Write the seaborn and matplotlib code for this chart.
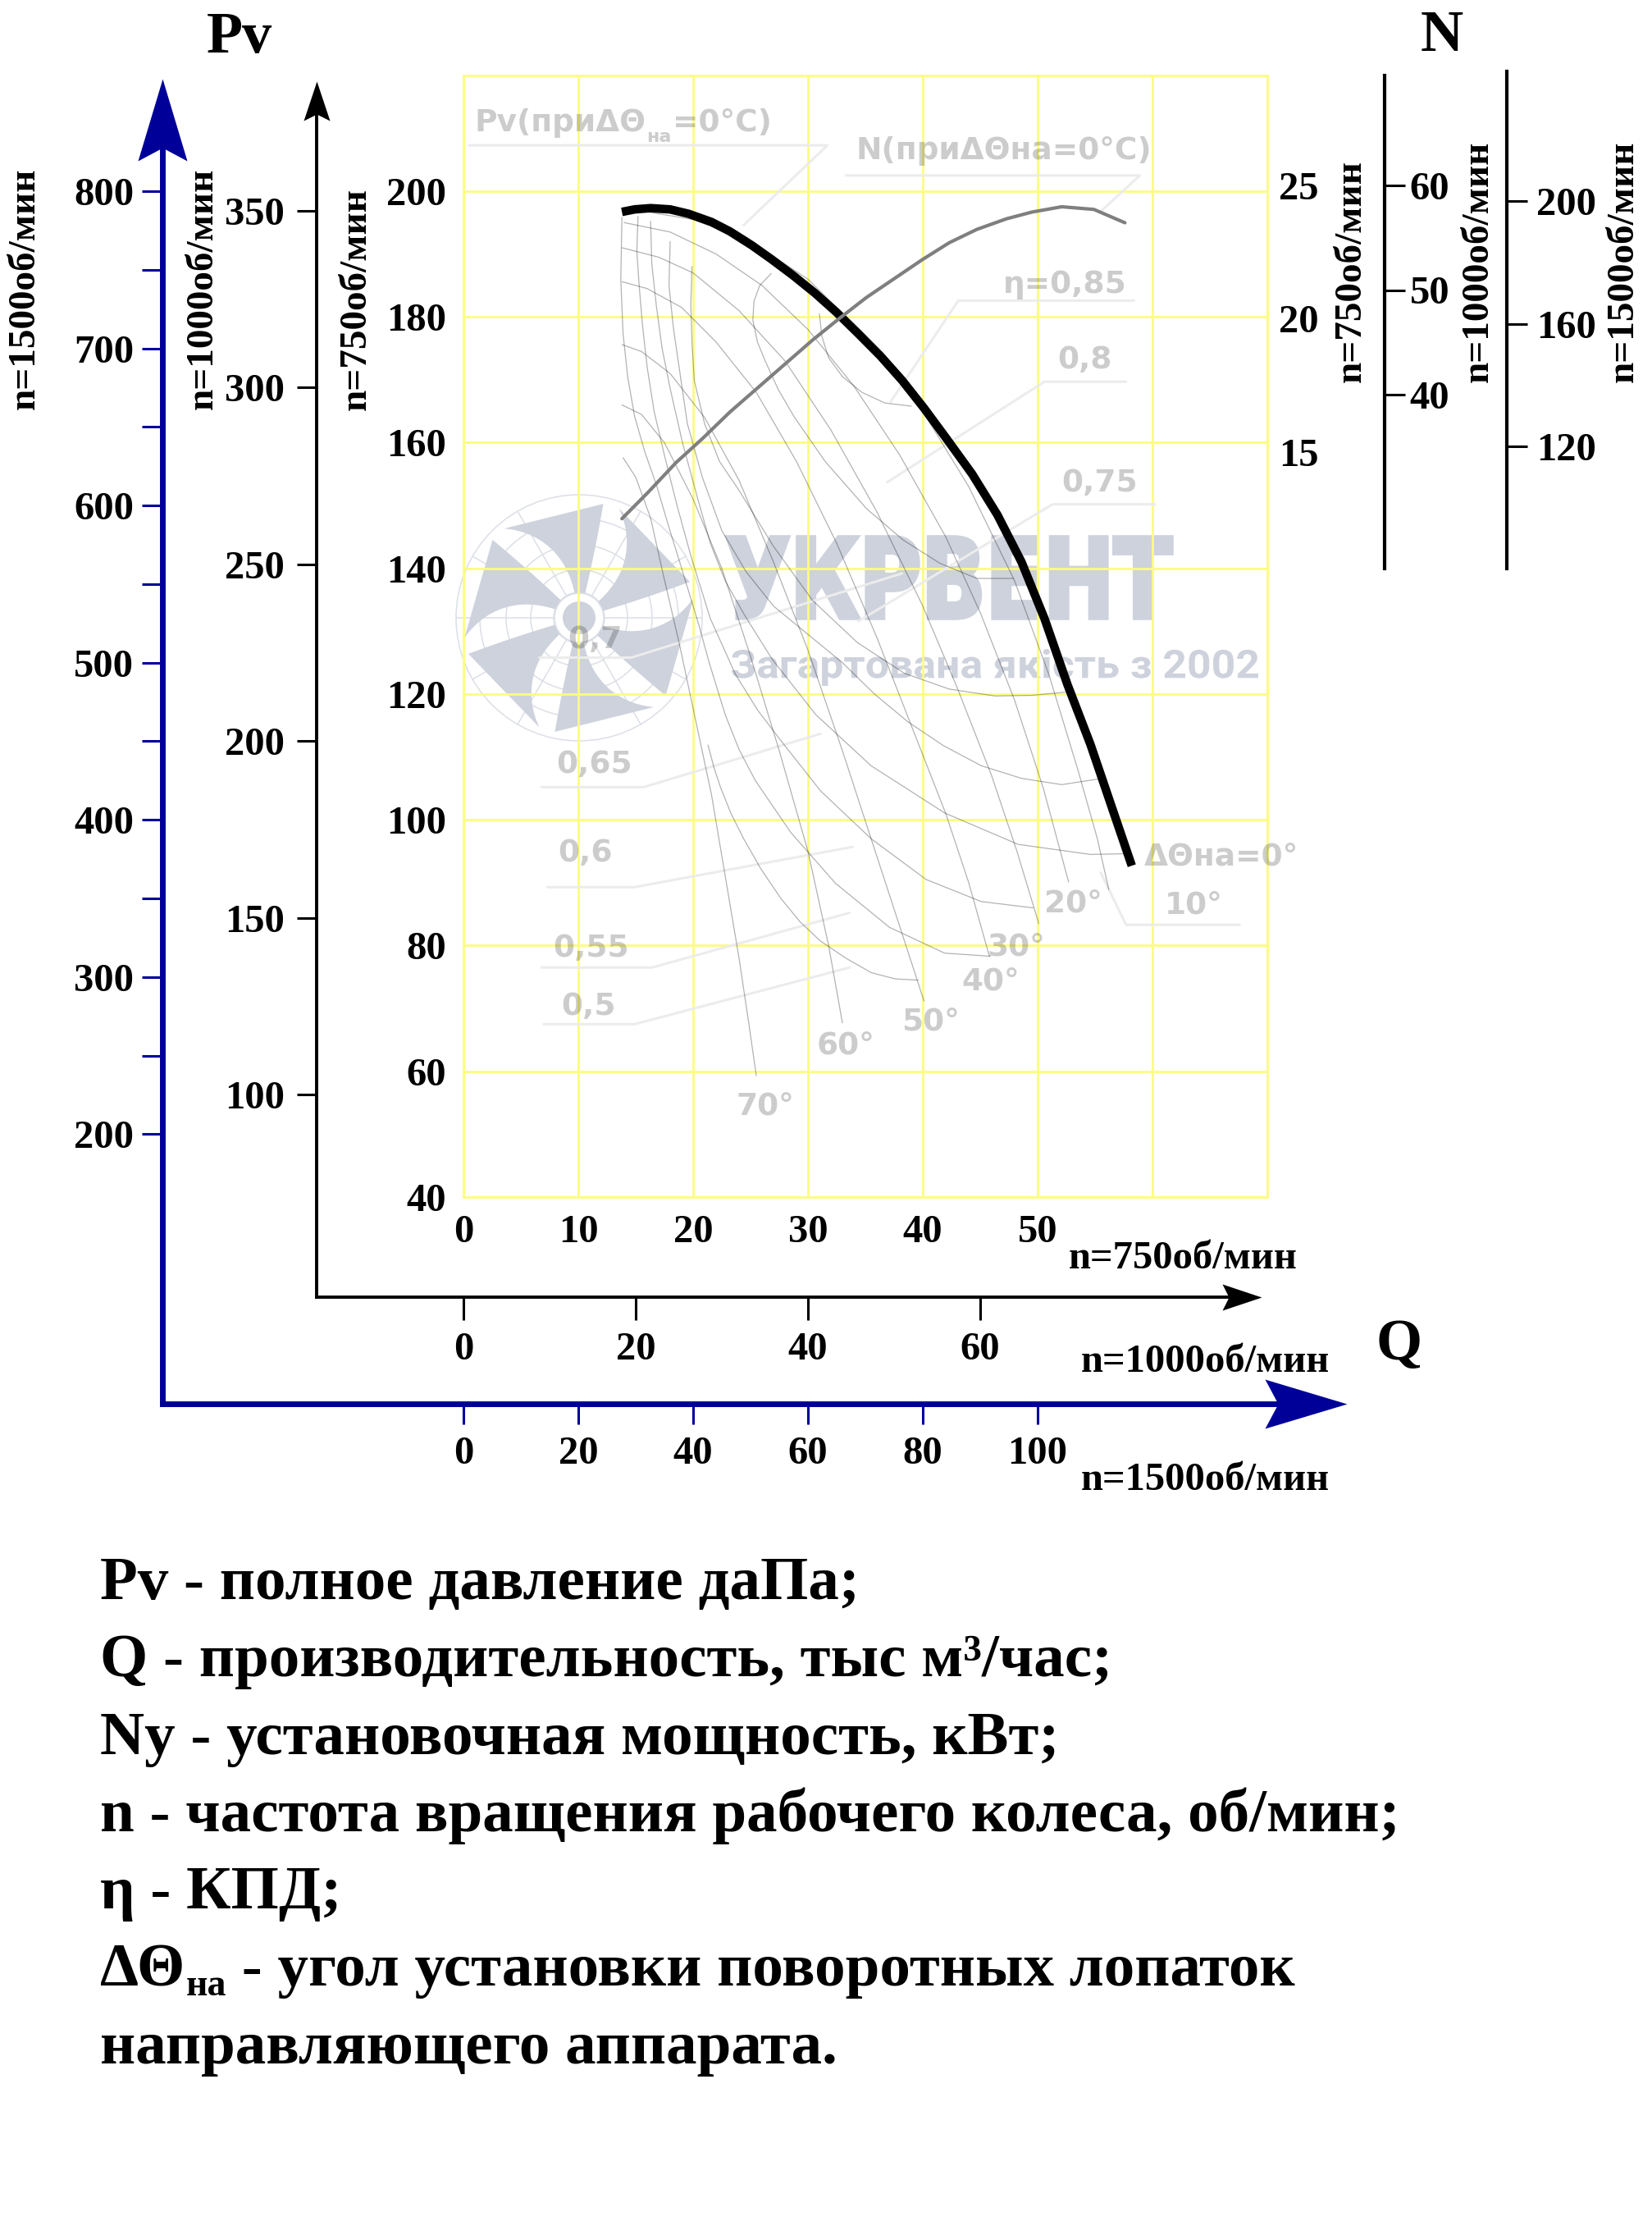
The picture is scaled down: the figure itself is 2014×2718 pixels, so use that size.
import numpy as np
import matplotlib
matplotlib.use("Agg")
import matplotlib.pyplot as plt
import seaborn as sns
from matplotlib.path import Path
from matplotlib.patches import PathPatch, Circle, Polygon
from matplotlib.textpath import TextPath
from matplotlib.font_manager import FontProperties
from matplotlib.transforms import Affine2D
from matplotlib.lines import Line2D
from matplotlib.text import Annotation

W, H = 2015, 2718

# ---- данные (n = 750 об/мин) ----
# Q - тыс м3/час, Pv - даПа, N - кВт
pv_q = [13.8, 14.9, 16.3, 18.0, 19.6, 21.6, 23.2, 25.1, 26.8, 28.7, 30.6, 32.5, 34.4,
        36.3, 38.2, 40.1, 42.0, 44.3, 46.5, 48.6, 50.6, 52.6, 54.6, 56.5, 58.2]
pv_val = [196.7, 197.1, 197.3, 197.1, 196.4, 195.1, 193.6, 191.4, 189.2, 186.6, 183.8, 180.7, 177.3,
          173.8, 169.9, 165.5, 160.8, 155.0, 148.5, 141.0, 132.0, 121.5, 112.0, 101.8, 92.7]

n_q = [13.8, 16.1, 18.5, 20.8, 23.2, 25.6, 28.0, 30.4, 32.7, 35.1, 37.5, 39.9, 42.3, 44.7, 47.3, 49.5, 52.1, 54.9, 57.6]
n_val = [12.5, 13.5, 14.6, 15.5, 16.5, 17.4, 18.3, 19.2, 20.0, 20.8, 21.5, 22.2, 22.85, 23.35, 23.75, 24.0, 24.2, 24.1, 23.6]

# кривые Pv при разных углах ΔΘна
angle_curves = {
    "10°": ([15.0, 20.0, 25.0, 30.0, 35.0, 40.0, 44.0, 48.0, 51.0, 53.5, 55.2, 56.2],
            [197, 195.5, 192, 186, 177, 165, 153, 138, 123, 108, 97, 88.9]),
    "20°": ([14.0, 18.0, 22.0, 26.0, 30.0, 34.0, 38.0, 42.0, 45.0, 48.0, 50.5, 52.7],
            [195, 193.5, 190, 185, 178, 169, 158, 145, 133, 119, 105, 90.1]),
    "30°": ([13.8, 17.0, 20.0, 24.0, 28.0, 32.0, 36.0, 40.0, 43.0, 46.0, 48.2, 50.1],
            [191, 189.5, 187, 181, 173, 162, 149, 134, 121, 107, 95, 83.5]),
    "40°": ([13.8, 16.0, 19.0, 22.0, 25.5, 29.0, 32.5, 36.0, 39.0, 42.0, 44.0, 45.8],
            [185.6, 184.5, 181.5, 176, 168, 157, 144, 129, 115, 101, 90, 78.3]),
    "50°": ([13.8, 15.5, 18.0, 21.0, 24.0, 27.0, 30.0, 33.0, 35.5, 38.0, 40.1],
            [175.6, 174.5, 171, 164, 154, 141, 127, 111, 97, 83, 71.2]),
    "60°": ([13.8, 15.5, 17.5, 20.0, 22.5, 25.0, 27.5, 30.0, 31.8, 33.0],
            [166, 164.5, 160, 151, 140, 126, 111, 95, 80, 67.7]),
    "70°": ([13.9, 15.0, 16.3, 17.4, 18.8, 20.2, 21.6, 22.8, 24.0, 24.9, 25.5],
            [157.6, 154.5, 148, 139, 128, 116, 104, 91, 78, 67, 59.3]),
}

# линии равного КПД
eta_curves = {
    "0,85": ([31.0, 31.2, 31.8, 33.0, 34.7, 36.7, 39.0], [180.5, 177.0, 173.5, 170.5, 168.0, 166.3, 165.8]),
    "0,8": ([26.8, 25.8, 25.3, 25.2, 25.6, 26.3, 27.4, 28.8, 31.5, 35.1, 38.3, 41.5, 44.7, 47.9],
            [186.9, 185.0, 182.5, 179.5, 176.0, 172.9, 168.5, 164.1, 157.0, 149.5, 144.5, 140.8, 138.4, 138.4]),
    "0,75": ([19.9, 19.8, 19.9, 20.1, 21.0, 22.3, 24.0, 27.0, 30.4, 34.3, 38.4, 42.3, 46.3, 49.5, 52.4],
             [188.0, 182.0, 176.0, 169.9, 163.0, 157.0, 152.4, 143.5, 134.9, 128.2, 123.3, 120.8, 119.7, 119.8, 120.3]),
    "0,7": ([18.0, 17.9, 18.3, 18.9, 19.5, 20.8, 22.5, 24.6, 27.0, 30.0, 33.0, 35.8, 38.7, 41.8, 45.1, 48.6, 52.1, 55.3],
            [192, 185, 178, 170.5, 163, 154.5, 146, 139.5, 134, 129.5, 125, 120, 115.6, 111.8, 108.6, 106.6, 105.6, 106.5]),
    "0,65": ([16.3, 16.4, 16.8, 17.3, 18.0, 19.1, 20.4, 21.5, 22.8, 24.5, 26.9, 30.7, 35.5, 41.9, 48.3, 54.6, 57.5],
             [195.2, 188.5, 181.7, 175.0, 168.6, 159.8, 151.1, 144.0, 138.0, 132.5, 125.5, 116.7, 108.6, 101.1, 96.1, 94.5, 94.6]),
    "0,6": ([15.2, 15.1, 15.3, 15.6, 16.0, 16.6, 17.5, 18.6, 19.8, 21.5, 23.7, 25.6, 27.6, 31.1, 35.5, 40.3, 45.1, 49.6],
            [196, 190.5, 185, 178.5, 172, 165, 158, 150, 142, 132, 123.1, 117.5, 112.7, 104.6, 97.0, 90.5, 87.0, 86.0]),
    "0,55": ([13.8, 13.7, 13.9, 14.3, 14.9, 15.8, 16.8, 17.9, 19.0, 20.5, 21.4, 22.8, 24.0, 25.4, 28.5, 32.4, 37.1, 41.9, 45.9],
             [195.8, 186, 177.3, 170.5, 164.2, 158.5, 153.3, 146.5, 140, 131, 125, 116.7, 111.2, 106.3, 98.0, 89.9, 82.9, 78.8, 78.3]),
    "0,5": ([21.3, 21.8, 22.4, 23.3, 24.4, 25.9, 27.6, 29.3, 31.1, 33.3, 35.5, 37.6, 39.6],
            [111.9, 108.4, 105.1, 101.0, 97.0, 92.2, 87.6, 83.8, 80.7, 78.0, 75.7, 74.7, 74.5]),
}

# подписи на поле графика и выноски к ним
eta_labels = [("η=0,85", 52.4, 185.6), ("0,8", 54.1, 173.6), ("0,75", 55.4, 154.0), ("0,7", 11.5, 129.1),
              ("0,65", 11.4, 109.3), ("0,6", 10.6, 95.2), ("0,55", 11.1, 80.1), ("0,5", 10.9, 70.8)]
angle_labels = [("10°", 63.6, 86.9), ("20°", 53.1, 87.2), ("30°", 48.1, 80.3), ("40°", 45.9, 74.8),
                ("50°", 40.7, 68.4), ("60°", 33.3, 64.6), ("70°", 26.3, 54.9)]
leaders = [
    ([0.5, 31.7, 24.4], [207.3, 207.3, 194.6]),
    ([33.3, 58.9, 55.4], [202.5, 202.5, 196.6]),
    ([58.4, 43.1, 37.2], [182.6, 182.6, 166.5]),
    ([57.7, 50.6, 36.9], [169.7, 169.7, 153.7]),
    ([60.2, 51.3, 34.4], [150.2, 150.2, 131.6]),
    ([6.6, 14.6, 38.2], [125.8, 125.8, 139.2]),
    ([6.8, 15.7, 31.1], [105.2, 105.2, 113.7]),
    ([7.3, 14.9, 33.9], [89.3, 89.3, 95.7]),
    ([6.8, 16.4, 33.6], [76.5, 76.5, 85.2]),
    ([7.0, 14.9, 33.6], [67.5, 67.5, 76.5]),
    ([67.6, 57.7, 55.5], [83.3, 83.3, 91.6]),
]

# деления шкал
q750_ticks = [0, 10, 20, 30, 40, 50, 60, 70]
q750_labels = ["0", "10", "20", "30", "40", "50", "", ""]
pv750_ticks = [40, 60, 80, 100, 120, 140, 160, 180, 200]
q1000_ticks = [0, 20, 40, 60]
pv1000_ticks = [100, 150, 200, 250, 300, 350]
q1500_ticks = [0, 20, 40, 60, 80, 100]
pv1500_ticks = [200, 300, 400, 500, 600, 700, 800]
pv1500_minor = [250, 350, 450, 550, 650, 750]
n750_ticks = [15, 20, 25]
n1000_ticks = [40, 50, 60]
n1500_ticks = [120, 160, 200]

legend_lines = [
    "Pv - полное давление даПа;",
    "Q - производительность, тыс м³/час;",
    "Nу - установочная мощность, кВт;",
    "n - частота вращения рабочего колеса, об/мин;",
    "η - КПД;",
]

BLUE = "#000099"
YELLOW = "#fcfc80"
THIN = (0, 0, 0, 0.3)
GRAY_TXT = (0, 0, 0, 0.2)
LEADER = "#ececec"
BLADE = "#cdd2dc"

sns.set_theme(style="ticks")
plt.rcParams["font.family"] = ["Liberation Serif", "DejaVu Serif"]
plt.rcParams["font.weight"] = "bold"
plt.rcParams["text.color"] = "black"
plt.rcParams["xtick.color"] = "black"
plt.rcParams["ytick.color"] = "black"

fig = plt.figure(figsize=(W / 100, H / 100), dpi=100)
fig.patch.set_facecolor("white")


def fbox(x0, y0, x1, y1):
    return [x0 / W, 1 - y1 / H, (x1 - x0) / W, (y1 - y0) / H]


def lim_from(v_a, py_a, v_b, py_b, py_bottom, py_top):
    k = (v_b - v_a) / (py_b - py_a)
    return v_a + (py_bottom - py_a) * k, v_a + (py_top - py_a) * k


MAIN = (565, 92, 1545, 1459)
Q_LIM = (0, 70)
PV_LIM = (40, 218.4)


def q_at(px):
    return Q_LIM[0] + (px - MAIN[0]) * (Q_LIM[1] - Q_LIM[0]) / (MAIN[2] - MAIN[0])


def pv_at(py):
    return PV_LIM[0] + (MAIN[3] - py) * (PV_LIM[1] - PV_LIM[0]) / (MAIN[3] - MAIN[1])


def arrow_path(length, half_w, notch, right=False):
    pts = [(0, notch), (half_w, notch - length), (0, 0), (-half_w, notch - length), (0, notch)]
    if right:
        pts = [(y, -x) for x, y in pts]
    codes = [Path.MOVETO, Path.LINETO, Path.LINETO, Path.LINETO, Path.CLOSEPOLY]
    return Path(pts, codes)


def speed_axes(box, n, color, lw, head):
    a = fig.add_axes(fbox(*box))
    a.set_facecolor("none")
    kq, kp = n / 750, (n / 750) ** 2
    a.set_xlim(q_at(box[0]) * kq, q_at(box[2]) * kq)
    a.set_ylim(pv_at(box[3]) * kp, pv_at(box[1]) * kp)
    for side in ("top", "right"):
        a.spines[side].set_visible(False)
    for side in ("left", "bottom"):
        a.spines[side].set_color(color)
        a.spines[side].set_linewidth(lw)
    length, half_w, notch = head
    ms = 1.44 * notch
    a.plot([0], [1], transform=a.transAxes, marker=arrow_path(length, half_w, notch), ms=ms,
           color=color, mew=0, clip_on=False, zorder=5)
    a.plot([1], [0], transform=a.transAxes, marker=arrow_path(length, half_w, notch, right=True), ms=ms,
           color=color, mew=0, clip_on=False, zorder=5)
    return a


# ---- шкалы для n=1500 и n=1000 ----
ax_b = speed_axes((198, 180, 1558, 1711), 1500, BLUE, 5, (100, 30, 84))
ax_b.set_yticks(pv1500_ticks)
ax_b.set_yticks(pv1500_minor, minor=True)
ax_b.set_xticks(q1500_ticks)
ax_b.tick_params(axis="both", which="both", direction="out", color=BLUE, labelcolor="black", width=2.2,
                 length=18, labelsize=35, left=True, bottom=True)
ax_b.tick_params(axis="y", pad=7)
ax_b.tick_params(axis="x", pad=10)

ax_k = speed_axes((386, 139, 1498, 1581), 1000, "black", 2.8, (48, 16, 40))
ax_k.set_yticks(pv1000_ticks)
ax_k.set_xticks(q1000_ticks)
ax_k.tick_params(axis="both", direction="out", color="black", labelcolor="black", width=2.2,
                 labelsize=35, left=True, bottom=True)
ax_k.tick_params(axis="y", length=17, pad=11)
ax_k.tick_params(axis="x", length=20, pad=10)

# ---- основное поле (n=750) ----
ax = fig.add_axes(fbox(*MAIN))
ax.set_facecolor("white")


def path_text(text, box, prop, color, stroke=0.0):
    tp = TextPath((0, 0), text, size=100, prop=prop)
    bb = tp.get_extents()
    x0, y0, x1, y1 = box
    tr = (Affine2D().translate(-bb.x0, -bb.y0)
          .scale((x1 - x0) / bb.width / 100, (y1 - y0) / bb.height / 100)
          .translate(x0 / 100, (H - y1) / 100) + fig.dpi_scale_trans)
    ax.add_artist(PathPatch(tp, transform=tr, fc=color, ec=color if stroke else "none", lw=stroke,
                            joinstyle="miter", zorder=0.3, clip_on=False))


def draw_logo(cx, cy):
    base = Affine2D().scale(1 / 100).translate(cx / 100, (H - cy) / 100) + fig.dpi_scale_trans
    ring = "#dcdfe6"
    for r in (150, 121, 89, 59, 31):
        ax.add_artist(Circle((0, 0), r, fill=False, ec=ring, lw=1.1, transform=base, zorder=0.3, clip_on=False))
    for a in np.deg2rad(np.arange(0, 360, 30)):
        ax.add_artist(Line2D([31 * np.cos(a), 150 * np.cos(a)], [31 * np.sin(a), 150 * np.sin(a)],
                             color=ring, lw=1.1, transform=base, zorder=0.3, clip_on=False))
    t = np.linspace(0, 1, 40)
    r = 24 + 118 * t
    for k in range(6):
        th0 = np.deg2rad(90 + 60 * k)
        lead = th0 + np.deg2rad(10 + 30 * t ** 1.6)
        trail = th0 - np.deg2rad(14 - 2 * t)
        xs = np.concatenate([r * np.cos(trail), (r * np.cos(lead))[::-1]])
        ys = np.concatenate([r * np.sin(trail), (r * np.sin(lead))[::-1]])
        ax.add_artist(Polygon(np.column_stack([xs, ys]), closed=True, fc=BLADE, ec="none",
                              transform=base, zorder=0.35, clip_on=False))
    ax.add_artist(Circle((0, 0), 30, fc="white", ec="none", transform=base, zorder=0.36, clip_on=False))
    ax.add_artist(Circle((0, 0), 30, fill=False, ec=ring, lw=1.1, transform=base, zorder=0.37, clip_on=False))
    ax.add_artist(Circle((0, 0), 20, fc=BLADE, ec="none", transform=base, zorder=0.37, clip_on=False))


draw_logo(706, 753)
path_text("УКРВЕНТ", (887, 655, 1428, 753), FontProperties(family="DejaVu Sans", weight="bold"), BLADE, stroke=4)
path_text("Загартована якість з 2002", (892, 791, 1534, 836), FontProperties(family="Roboto", weight="bold"), BLADE)

for q, pv in eta_curves.values():
    sns.lineplot(x=q, y=pv, ax=ax, color=THIN, lw=0.9, sort=False, estimator=None)
for q, pv in angle_curves.values():
    sns.lineplot(x=q, y=pv, ax=ax, color=THIN, lw=0.9, sort=False, estimator=None)
for q, pv in leaders:
    ax.plot(q, pv, color=LEADER, lw=2.2, zorder=1.5, clip_on=False)

sns.lineplot(x=pv_q, y=pv_val, ax=ax, color="black", lw=7.5, sort=False, estimator=None,
             solid_capstyle="butt", solid_joinstyle="round", zorder=4)

gray = dict(family="DejaVu Sans", weight="bold", color=GRAY_TXT, fontsize=27)
for s, q, pv in eta_labels + angle_labels:
    ax.text(q, pv, s, ha="center", va="center_baseline", zorder=3, **gray)
ax.text(59.3, 94.6, "ΔΘна=0°", ha="left", va="center_baseline", zorder=3, **gray)
ax.text(34.2, 205.1, "N(приΔΘна=0°C)", ha="left", va="baseline", zorder=3, **gray)

t1 = ax.text(0.93, 209.5, "Pv(приΔΘ", ha="left", va="baseline", zorder=3, **gray)
t2 = Annotation("на", xy=(1, 0), xycoords=t1, xytext=(1, -6), textcoords="offset points",
                ha="left", va="bottom", family="DejaVu Sans", weight="bold", color=GRAY_TXT, fontsize=16)
fig.add_artist(t2)
t3 = Annotation("=0°C)", xy=(1, 0), xycoords=(t2, t1), xytext=(1, 0), textcoords="offset points",
                ha="left", va="bottom", **gray)
fig.add_artist(t3)

ax.set_xlim(Q_LIM)
ax.set_ylim(PV_LIM)
ax.set_xticks(q750_ticks)
ax.set_xticklabels(q750_labels)
ax.set_yticks(pv750_ticks)
ax.set_axisbelow(True)
ax.grid(True, color=YELLOW, lw=2)
for sp in ax.spines.values():
    sp.set_color(YELLOW)
    sp.set_linewidth(2)
ax.tick_params(length=0, pad=15, labelsize=35, labelcolor="black")
ax.set_xlabel("")
ax.set_ylabel("")

# ---- мощность N ----
ax_n = ax.twinx()
sns.lineplot(x=n_q, y=n_val, ax=ax_n, color="#7f7f7f", lw=3, sort=False, estimator=None)
ax_n.set_ylim(lim_from(25, 226, 15, 551, MAIN[3], MAIN[1]))
ax_n.set_yticks(n750_ticks)
ax_n.tick_params(length=0, pad=10, labelsize=35, labelcolor="black")
ax_n.set_ylabel("")
ax_n.grid(False)
for sp in ax_n.spines.values():
    sp.set_visible(False)


def n_axis(box, ref, ticks):
    a = fig.add_axes(fbox(*box))
    a.set_facecolor("none")
    for side in ("top", "left", "bottom"):
        a.spines[side].set_visible(False)
    a.spines["right"].set_color("black")
    a.spines["right"].set_linewidth(3)
    a.set_ylim(lim_from(*ref, box[3], box[1]))
    a.set_xticks([])
    a.yaxis.tick_right()
    a.set_yticks(ticks)
    a.tick_params(axis="y", direction="out", length=18, width=2.2, labelsize=35, color="black",
                  labelcolor="black", right=True, left=False, labelright=True, labelleft=False)
    return a


ax_r1 = n_axis((1660, 92, 1688, 693), (60, 226, 40, 481), n1000_ticks)
ax_r1.tick_params(axis="y", pad=4)
ax_r2 = n_axis((1800, 87, 1837, 693), (200, 245, 120, 544), n1500_ticks)
ax_r2.tick_params(axis="y", pad=8)


# ---- надписи ----
def ftext(x, y, s, **kw):
    return fig.text(x / W, 1 - y / H, s, **kw)


ftext(292, 64, "Pv", ha="center", va="baseline", fontsize=52)
ftext(1758, 62, "N", ha="center", va="baseline", fontsize=52)
ftext(1706, 1657, "Q", ha="center", va="baseline", fontsize=52)

for x, y, s in [(31, 352, "n=1500об/мин"), (248, 352, "n=1000об/мин"), (435, 365, "n=750об/мин"),
                (1648, 330, "n=750об/мин"), (1803, 319, "n=1000об/мин"), (1980, 319, "n=1500об/мин")]:
    ftext(x, y, s, rotation=90, ha="center", va="center", fontsize=34)

for x, y, s in [(1303, 1546, "n=750об/мин"), (1318, 1672, "n=1000об/мин"), (1318, 1816, "n=1500об/мин")]:
    ftext(x, y, s, ha="left", va="baseline", fontsize=35)

base_y = 1949
step = 94.3
for i, s in enumerate(legend_lines):
    ftext(122, base_y + i * step, s, ha="left", va="baseline", fontsize=54)

d1 = ftext(122, base_y + 5 * step, "ΔΘ", ha="left", va="baseline", fontsize=54)
d2 = Annotation("на", xy=(1, 0), xycoords=d1, xytext=(1, -4), textcoords="offset points",
                ha="left", va="bottom", fontsize=33, weight="bold", color="black")
fig.add_artist(d2)
d3 = Annotation(" - угол установки поворотных лопаток", xy=(1, 0), xycoords=(d2, d1), xytext=(0, 0),
                textcoords="offset points", ha="left", va="bottom", fontsize=54, weight="bold", color="black")
fig.add_artist(d3)
ftext(122, base_y + 6 * step, "направляющего аппарата.", ha="left", va="baseline", fontsize=54)

fig.savefig("out.png", dpi=100)
